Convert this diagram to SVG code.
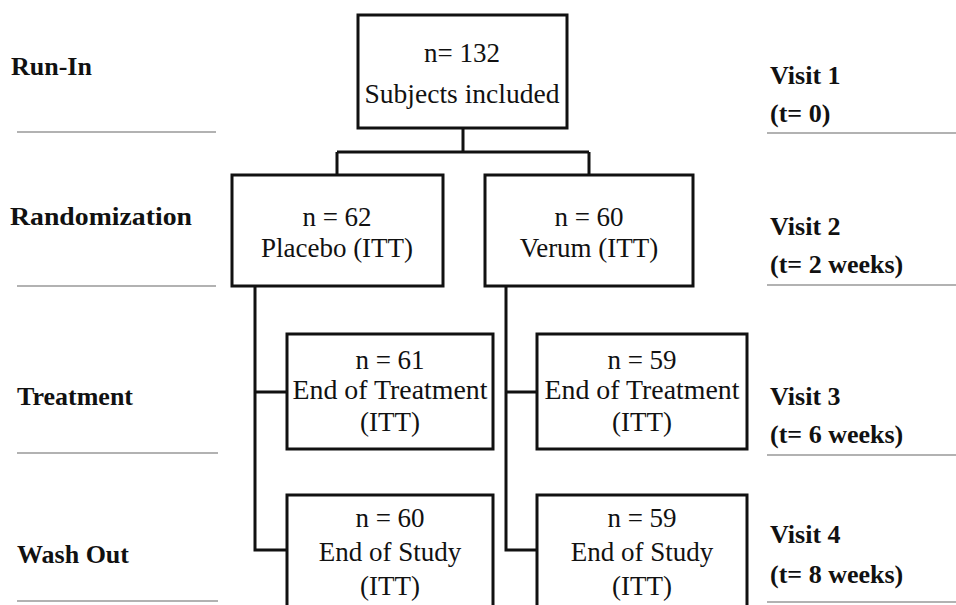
<svg xmlns="http://www.w3.org/2000/svg" width="956" height="605" viewBox="0 0 956 605">
<style>
.box{fill:#fff;stroke:#111;stroke-width:3}
.con{fill:none;stroke:#111;stroke-width:3}
.sep{stroke:#666;stroke-width:1.2}
text{font-family:"Liberation Serif","DejaVu Serif",serif;fill:#111}
.t{font-size:27px;text-anchor:middle}
.b{font-size:26px;font-weight:bold}
</style>
<rect width="956" height="605" fill="#fff"/>
<g id="connectors">
<path class="con" d="M463 128V152M337 152H589M337 152V175M589 152V175"/>
<path class="con" d="M255 286V550H287M255 392H287"/>
<path class="con" d="M506 286V550H537M506 392H537"/>
</g>
<g id="separators">
<path class="sep" d="M17 132H216M17 286H216M17 453H218M17 601H218M767 133H956M767 285H956M767 455H956M767 602H956"/>
</g>
<g id="labels">
<text class="b" x="11" y="75">Run-In</text>
<text class="b" x="10" y="225" textLength="182" lengthAdjust="spacingAndGlyphs">Randomization</text>
<text class="b" x="17" y="405">Treatment</text>
<text class="b" x="17" y="563">Wash Out</text>
<text class="b" x="770" y="84">Visit 1</text>
<text class="b" x="770" y="122">(t= 0)</text>
<text class="b" x="770" y="235">Visit 2</text>
<text class="b" x="770" y="273">(t= 2 weeks)</text>
<text class="b" x="770" y="405">Visit 3</text>
<text class="b" x="770" y="443">(t= 6 weeks)</text>
<text class="b" x="770" y="543">Visit 4</text>
<text class="b" x="770" y="583">(t= 8 weeks)</text>
</g>
<g id="node-included">
<rect class="box" x="358" y="15" width="209" height="113"/>
<text class="t" x="462" y="62">n= 132</text>
<text class="t" x="462" y="103" textLength="195" lengthAdjust="spacingAndGlyphs">Subjects included</text>
</g>
<g id="node-placebo">
<rect class="box" x="232" y="175" width="211" height="111"/>
<text class="t" x="337" y="226">n = 62</text>
<text class="t" x="337" y="257">Placebo (ITT)</text>
</g>
<g id="node-verum">
<rect class="box" x="485" y="175" width="208" height="111"/>
<text class="t" x="589" y="226">n = 60</text>
<text class="t" x="589" y="257">Verum (ITT)</text>
</g>
<g id="node-placebo-treatment">
<rect class="box" x="287" y="334" width="206" height="115"/>
<text class="t" x="390" y="369">n = 61</text>
<text class="t" x="390" y="399" textLength="195" lengthAdjust="spacingAndGlyphs">End of Treatment</text>
<text class="t" x="390" y="431">(ITT)</text>
</g>
<g id="node-verum-treatment">
<rect class="box" x="537" y="334" width="210" height="115"/>
<text class="t" x="642" y="369">n = 59</text>
<text class="t" x="642" y="399" textLength="195" lengthAdjust="spacingAndGlyphs">End of Treatment</text>
<text class="t" x="642" y="431">(ITT)</text>
</g>
<g id="node-placebo-study">
<rect class="box" x="287" y="495" width="206" height="120"/>
<text class="t" x="390" y="527">n = 60</text>
<text class="t" x="390" y="561">End of Study</text>
<text class="t" x="390" y="595">(ITT)</text>
</g>
<g id="node-verum-study">
<rect class="box" x="537" y="495" width="210" height="120"/>
<text class="t" x="642" y="527">n = 59</text>
<text class="t" x="642" y="561">End of Study</text>
<text class="t" x="642" y="595">(ITT)</text>
</g>
</svg>
